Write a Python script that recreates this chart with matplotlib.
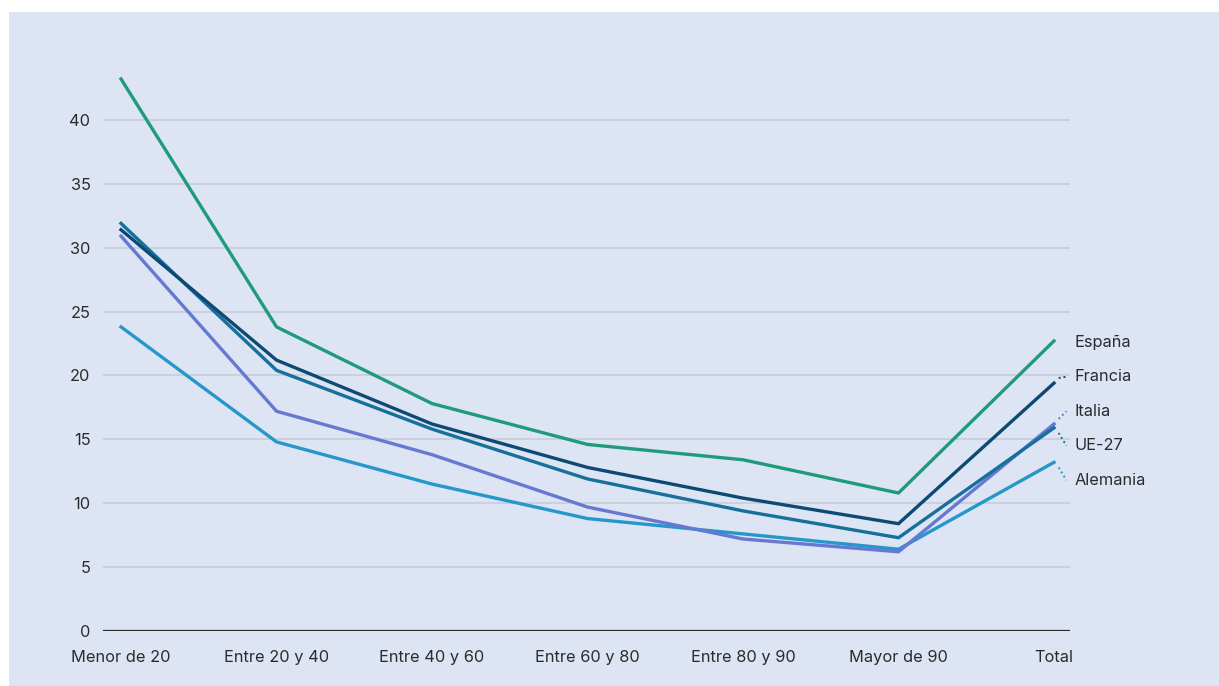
import matplotlib
matplotlib.use("Agg")
import matplotlib.pyplot as plt
from matplotlib.patches import Rectangle

plt.rcParams["font.family"] = ["Inter", "DejaVu Sans"]

categories = ["Menor de 20", "Entre 20 y 40", "Entre 40 y 60", "Entre 60 y 80",
              "Entre 80 y 90", "Mayor de 90", "Total"]

alemania = [23.8, 14.8, 11.5, 8.8, 7.6, 6.4, 13.2]
italia = [30.9, 17.2, 13.8, 9.7, 7.2, 6.2, 16.2]
ue27 = [31.9, 20.4, 15.8, 11.9, 9.4, 7.3, 15.9]
francia = [31.4, 21.2, 16.2, 12.8, 10.4, 8.4, 19.4]
espana = [43.2, 23.8, 17.8, 14.6, 13.4, 10.8, 22.7]

names = ["Alemania", "Italia", "UE-27", "Francia", "España"]
series = [alemania, italia, ue27, francia, espana]
colors = ["#2697c9", "#6678d2", "#15709a", "#0c4a74", "#1f9b7b"]
label_y = [11.8, 17.2, 14.5, 19.9, 22.6]
y_ticks = [0, 5, 10, 15, 20, 25, 30, 35, 40]

BG = "#dde4f4"
TXT = "#2b2b2b"

fig = plt.figure(figsize=(12.19, 6.86), dpi=100, facecolor="white")
fig.patches.append(Rectangle((9 / 1219, 0), 1 - 9 / 1219, 1 - 12 / 686,
                             transform=fig.transFigure, facecolor=BG,
                             edgecolor="none", zorder=-10))
ax = fig.add_axes([103 / 1219, 55 / 686, 967 / 1219, 575 / 686])
ax.set_facecolor("none")
ax.set_zorder(5)

x = list(range(len(categories)))
for name, vals, c, ly in zip(names, series, colors, label_y):
    ax.plot(x, vals, color=c, lw=2.4, solid_joinstyle="miter", zorder=3)
    ax.text(6.135, ly, name, color=TXT, fontsize=11.8, va="center", ha="left")
    if name != "España":
        # dotted leader from the end point to its label
        ax.plot([6.03, 6.08], [vals[-1] + (0.4 if ly > vals[-1] else -0.4), ly],
                color=c, lw=1.4, ls=(0, (1, 1.5)), clip_on=False, zorder=3)

ax.set_xlim(-0.116, 6.103)
ax.set_ylim(0, 45)
ax.set_yticks(y_ticks)
ax.set_xticks(x)
ax.set_xticklabels(categories)
for t in y_ticks[1:]:
    ax.axhline(t, color="#c8ccd9", lw=1.2, zorder=1)
ax.axhline(0, color="#2b2b2b", lw=1.6, zorder=4)

for s in ax.spines.values():
    s.set_visible(False)
ax.tick_params(axis="both", length=0, labelsize=11.8, labelcolor=TXT)
ax.tick_params(axis="y", pad=9)
ax.tick_params(axis="x", pad=14)

fig.savefig("out.png", dpi=100, facecolor="white")
